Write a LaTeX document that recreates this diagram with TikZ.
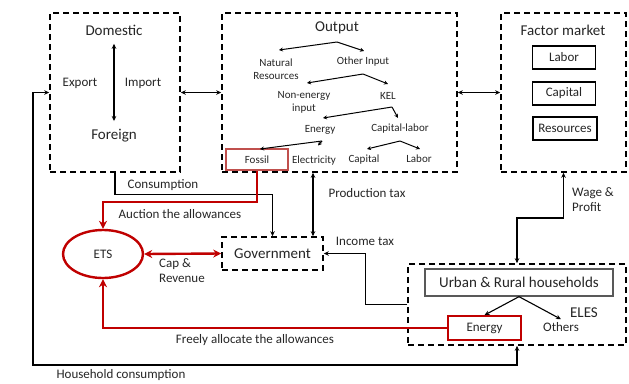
\documentclass[tikz,border=0pt]{standalone}
\usepackage{fontspec}
\setmainfont{Carlito}
\usetikzlibrary{arrows.meta,shapes.geometric,calc}
\definecolor{ered}{HTML}{C00000}
\definecolor{fred}{HTML}{C0504D}
\definecolor{txt}{HTML}{262626}
\begin{document}
\begin{tikzpicture}[x=1pt,y=-1pt,
  every node/.style={text=txt},
  dbox/.style={draw, line width=1.6pt, dash pattern=on 6pt off 4pt, inner sep=0pt},
  big/.style={font=\fontsize{15}{17}\selectfont},
  mid/.style={font=\fontsize{13}{15}\selectfont},
  sml/.style={font=\fontsize{11}{13}\selectfont, inner sep=1pt},
  arr/.style={-{Stealth[length=5pt,width=4.5pt]}, line width=1.1pt},
  darr/.style={{Stealth[length=5pt,width=4.5pt]}-{Stealth[length=5pt,width=4.5pt]}, line width=1.1pt},
  tarr/.style={-{Stealth[length=4pt,width=4pt]}, line width=1pt},
  rarr/.style={draw=ered, line width=2.4pt, -{Stealth[length=8pt,width=8pt]}},
  rdarr/.style={draw=ered, line width=2.4pt, {Stealth[length=8pt,width=8pt]}-{Stealth[length=8pt,width=8pt]}},
  fbox/.style={draw, line width=1.5pt, minimum width=63pt, minimum height=23pt, mid, inner sep=0pt},
  lbl/.style={mid, inner sep=1pt}
]
\useasboundingbox[fill=white] (0,0) rectangle (629,383);

% dashed boxes
\node[dbox, minimum width=130pt, minimum height=159pt] (trade) at (115,92.5) {};
\node[dbox, minimum width=235pt, minimum height=159pt] (output) at (339.5,92.5) {};
\node[dbox, minimum width=125pt, minimum height=159pt] (factor) at (563.5,92.5) {};
\node[dbox, big, minimum width=101pt, minimum height=33pt] (gov) at (272.5,253.5) {Government};
\node[dbox, minimum width=218pt, minimum height=81pt] (hh) at (517,304.5) {};

% trade box
\node[big] (dom) at (114,30) {Domestic};
\node[big] (for) at (114,136) {Foreign};
\node[lbl] (exp) at (80,83) {Export};
\node[lbl] (imp) at (143,83) {Import};
\draw[darr] ($(dom.south)+(0,5)$) -- ($(for.north)+(0,-5)$);

% output box
\node[big] (outp) at (337,28) {Output};
\node[sml, align=center] (natres) at (276,69) {Natural\\Resources};
\node[sml] (other) at (363,62) {Other Input};
\node[sml, align=center] (nonen) at (304,102.5) {Non-energy\\input};
\node[sml] (kel) at (388,96) {KEL};
\node[sml] (energy) at (320,130) {Energy};
\node[sml] (caplab) at (400,129) {Capital-labor};
\node[draw=fred, line width=1.6pt, minimum width=62pt, minimum height=21pt, sml] (fossil) at (257,159.5) {Fossil};
\node[sml] (elec) at (314,161) {Electricity};
\node[sml] (capital) at (364,160) {Capital};
\node[sml] (labor) at (419,159) {Labor};

\coordinate (a1) at (337,42);  \coordinate (natres-in) at (279,50);  \coordinate (other-in) at (364,51);
\coordinate (a2) at (363,74);  \coordinate (nonen-in) at (307,83);   \coordinate (kel-in) at (388,84);
\coordinate (a3) at (392,107); \coordinate (energy-in) at (323,118); \coordinate (caplab-in) at (398,118);
\coordinate (a4) at (322,141); \coordinate (fossil-in) at (260,149); \coordinate (elec-in) at (318,145.5);
\coordinate (a5) at (400,141); \coordinate (capital-in) at (367,149); \coordinate (labor-in) at (420,149);
\draw[tarr] (a1) -- (natres-in);  \draw[tarr] (a1) -- (other-in);
\draw[tarr] (a2) -- (nonen-in);   \draw[tarr] (a2) -- (kel-in);
\draw[tarr] (a3) -- (energy-in);  \draw[tarr] (a3) -- (caplab-in);
\draw[tarr] (a4) -- (fossil-in);  \draw[tarr] (a4) -- (elec-in);
\draw[tarr] (a5) -- (capital-in); \draw[tarr] (a5) -- (labor-in);

% factor market
\node[big] (fm) at (563,30) {Factor market};
\node[fbox] (flab) at (564,57.5) {Labor};
\node[fbox] (fcap) at (564,93.5) {Capital};
\node[fbox, minimum width=64pt] (fres) at (565,128.5) {Resources};

% households
\node[draw=black!65, line width=1.3pt, minimum width=188pt, minimum height=27pt, big, inner sep=0pt] (urban) at (519,282.5) {Urban \& Rural households};
\node[draw=ered, line width=1.8pt, minimum width=73pt, minimum height=24pt, mid, inner sep=0pt] (hen) at (484.5,328) {Energy};
\node[lbl] (others) at (561,327) {Others};
\node[big] (eles) at (584,313) {ELES};
\draw[arr] (urban.south) -- (hen.north);
\draw[arr] (urban.south) -- ($(others.north)+(0,-2)$);

% ETS
\node[ellipse, draw=ered, line width=2.4pt, minimum width=80pt, minimum height=48pt, mid] (ets) at (103,254) {ETS};

% connectors
\draw[darr] (trade.east) -- (output.west);
\draw[darr] (output.east) -- (factor.west);
\coordinate (hc) at (33,365);
\draw[darr] (trade.west) -| (hc) -| (hh.south);
\draw[arr] (trade.south) |- ($(gov.north)+(0,-42)$) -- (gov.north);
\coordinate (ptx) at (313,0);
\draw[darr] (output.south -| ptx) -- (gov.north -| ptx);
\draw[rarr] (fossil.south) |- ($(ets.north)+(0,-27)$) -- (ets.north);
\draw[rdarr] (ets.east) -- (gov.west);
\draw[arr] (hh.west) -- ++(-42,0) |- (gov.east);
\draw[darr] (factor.south) |- ($(factor.south)!.5!(hh.north)$) -| (hh.north);
\draw[rarr] (hen.west) -| (ets.south);

% labels
\node[lbl] (lcons) at (163,185) {Consumption};
\node[lbl] (lauc) at (180,214) {Auction the allowances};
\node[lbl, align=left, anchor=west] (lcap) at (158,270.5) {Cap \&\\Revenue};
\node[lbl] (lprod) at (367,193) {Production tax};
\node[lbl] (linc) at (365,241) {Income tax};
\node[lbl, align=left, anchor=west] (lwage) at (571,199.5) {Wage \&\\Profit};
\node[lbl] (lfree) at (255,340) {Freely allocate the allowances};
\node[lbl] (lhc) at (121,375) {Household consumption};
\end{tikzpicture}
\end{document}
